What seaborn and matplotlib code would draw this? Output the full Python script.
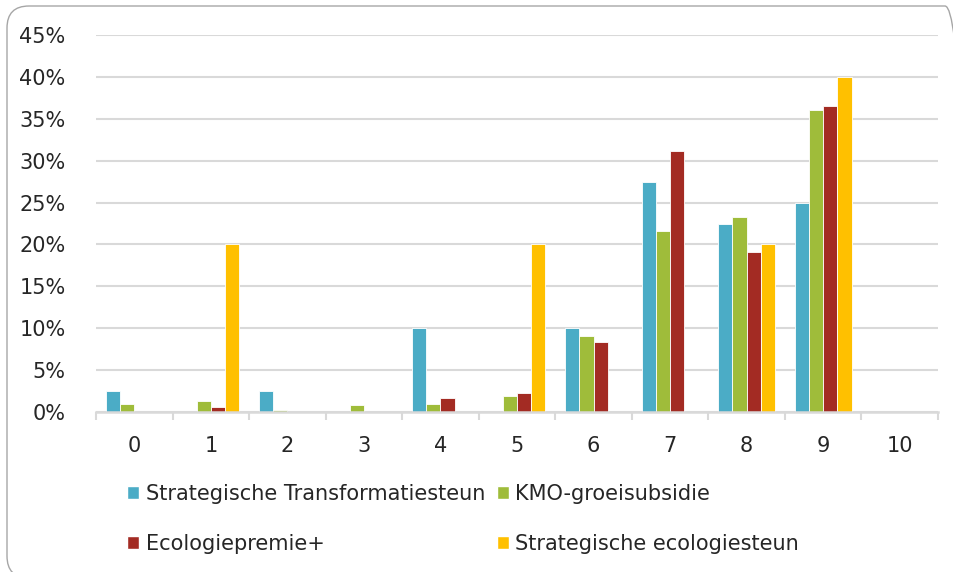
import matplotlib
matplotlib.use("Agg")
import matplotlib.pyplot as plt
from matplotlib.patches import FancyBboxPatch, Patch
from matplotlib.transforms import IdentityTransform
from matplotlib.ticker import FuncFormatter, FixedLocator
import pandas as pd
import seaborn as sns

# scores 0..10 and share of respondents (%) per instrument
scores = [str(i) for i in range(11)]
series_names = [
    "Strategische Transformatiesteun",
    "KMO-groeisubsidie",
    "Ecologiepremie+",
    "Strategische ecologiesteun",
]
transformatiesteun = [2.5, 0, 2.5, 0, 10.0, 0, 10.0, 27.5, 22.5, 25.0, 0]
kmo_groeisubsidie = [1.0, 1.3, 0.2, 0.8, 1.0, 1.9, 9.1, 21.6, 23.3, 36.1, 0]
ecologiepremie = [0, 0.6, 0, 0, 1.7, 2.3, 8.3, 31.1, 19.1, 36.5, 0]
ecologiesteun = [0, 20.0, 0, 0, 0, 20.0, 0, 0, 20.0, 40.0, 0]
colors = ["#4BACC6", "#9FBC3A", "#A32B23", "#FFC000"]

values = [transformatiesteun, kmo_groeisubsidie, ecologiepremie, ecologiesteun]
rows = []
for name, vals in zip(series_names, values):
    for s, v in zip(scores, vals):
        rows.append({"score": s, "instrument": name, "pct": v})
df = pd.DataFrame(rows)

sns.set_style("white")
plt.rcParams["font.family"] = ["DejaVu Sans"]

fig = plt.figure(figsize=(9.54, 5.72), dpi=100)
ax = fig.add_axes([96 / 954, 160 / 572, 842 / 954, 377 / 572])

sns.barplot(
    data=df, x="score", y="pct", hue="instrument",
    order=scores, hue_order=series_names, palette=colors, saturation=1,
    width=0.74, edgecolor="white", linewidth=0.6, legend=False, ax=ax,
)

ax.set_ylim(0, 45)
ax.set_xlim(-0.5, 10.5)
ax.set_yticks(range(0, 50, 5))
ax.yaxis.set_major_formatter(FuncFormatter(lambda v, p: f"{v:.0f}%"))
ax.yaxis.grid(True, color="#D9D9D9", linewidth=1.5)
ax.set_axisbelow(True)
ax.set_xlabel("")
ax.set_ylabel("")

for side in ["left", "right", "top"]:
    ax.spines[side].set_visible(False)
ax.spines["bottom"].set_color("#D9D9D9")
ax.spines["bottom"].set_linewidth(1.8)

ax.xaxis.set_minor_locator(FixedLocator([i - 0.5 for i in range(12)]))
ax.tick_params(axis="x", which="minor", length=6, width=1.5, color="#D9D9D9", bottom=True)
ax.tick_params(axis="x", which="major", length=0, pad=17, labelsize=15, labelcolor="#262626")
ax.tick_params(axis="y", length=0, pad=22, labelsize=15, labelcolor="#262626")

# legend, filled row-wise
handles = [Patch(facecolor=c) for c in colors]
order = [0, 2, 1, 3]
fig.legend(
    [handles[i] for i in order], [series_names[i] for i in order],
    ncol=2, loc="upper left", bbox_to_anchor=(127 / 954, 1 - 484 / 572),
    frameon=False, fontsize=15, borderpad=0, borderaxespad=0,
    handlelength=0.6, handleheight=0.6, handletextpad=0.3,
    columnspacing=0.55, labelspacing=1.45, labelcolor="#262626",
)

# rounded outer frame
frame = FancyBboxPatch(
    (7, -6), 960, 572, boxstyle="round,pad=0,rounding_size=22",
    transform=IdentityTransform(), facecolor="none",
    edgecolor="#A6A6A6", linewidth=1.0,
)
fig.patches.append(frame)

fig.savefig("out.png", dpi=100)
